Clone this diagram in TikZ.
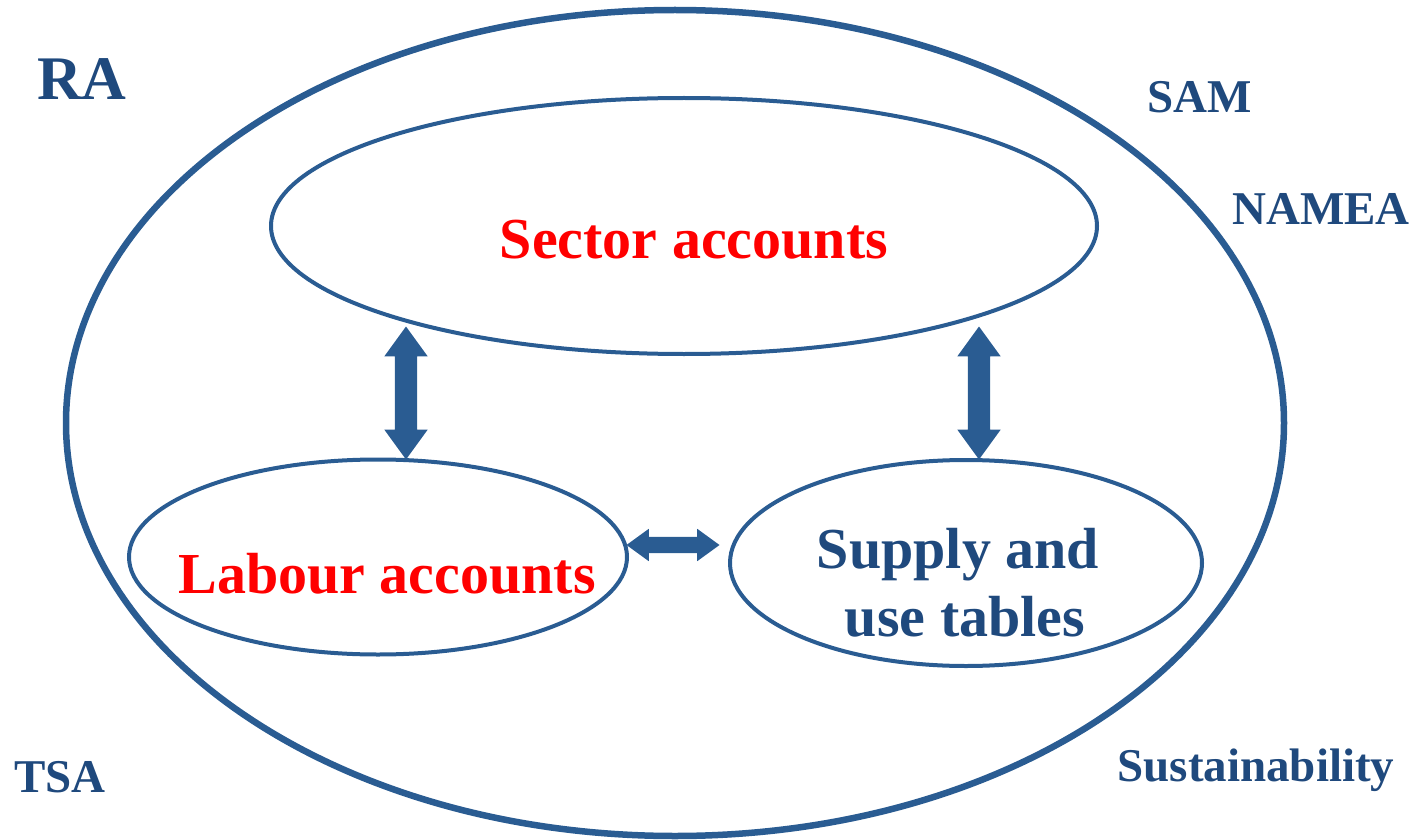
\documentclass[tikz,border=0pt]{standalone}
\usepackage{fontspec}
\setmainfont{Liberation Serif}
\usetikzlibrary{shapes.geometric,shapes.arrows}
\definecolor{lineblue}{RGB}{42,92,146}
\definecolor{textblue}{RGB}{31,73,125}
\begin{document}
\begin{tikzpicture}[x=1pt,y=-1pt,
  ell/.style={ellipse,draw=lineblue,line width=4pt,inner sep=0pt},
  bigtxt/.style={font=\fontsize{58}{65}\selectfont\bfseries,anchor=base,inner sep=0pt},
  smalltxt/.style={font=\fontsize{47}{52}\selectfont\bfseries,text=textblue,anchor=base,inner sep=0pt},
  darrow/.style={double arrow,fill=lineblue,draw=none,inner xsep=0pt,inner ysep=11pt,
    double arrow head extend=10.5pt,double arrow tip angle=72}]
\useasboundingbox (0,0) rectangle (1417,840);
\node[ell,line width=6.5pt,minimum width=1218pt,minimum height=826pt] (outer) at (675,423) {};
\node[ell,minimum width=826pt,minimum height=256pt] (sector) at (684,226) {};
\node[ell,minimum width=498pt,minimum height=195pt] (labour) at (378,557) {};
\node[ell,minimum width=472pt,minimum height=206pt] (supply) at (966,563) {};
\node[bigtxt,text=red] (st) at (694,258) {Sector accounts};
\node[bigtxt,text=red] (lt) at (387,593) {Labour accounts};
\node[bigtxt,text=textblue] (su1) at (958,568) {Supply and};
\node[bigtxt,text=textblue] (su2) at (965,636) {use tables};
\node[font=\fontsize{62}{70}\selectfont\bfseries,text=textblue,anchor=base,inner sep=0pt] (ra) at (82,100) {RA};
\node[smalltxt] (sam) at (1200,113) {SAM};
\node[smalltxt] (namea) at (1321,224) {NAMEA};
\node[smalltxt] (tsa) at (60,792) {TSA};
\node[smalltxt] (sus) at (1256,781) {Sustainability};
\node[darrow,minimum height=133pt,rotate=90] (a1) at (406,393) {};
\node[darrow,minimum height=133pt,rotate=90] (a2) at (979,393) {};
\node[darrow,minimum height=93pt,inner ysep=8pt,double arrow head extend=8pt] (a3) at (673,545) {};
\end{tikzpicture}
\end{document}
